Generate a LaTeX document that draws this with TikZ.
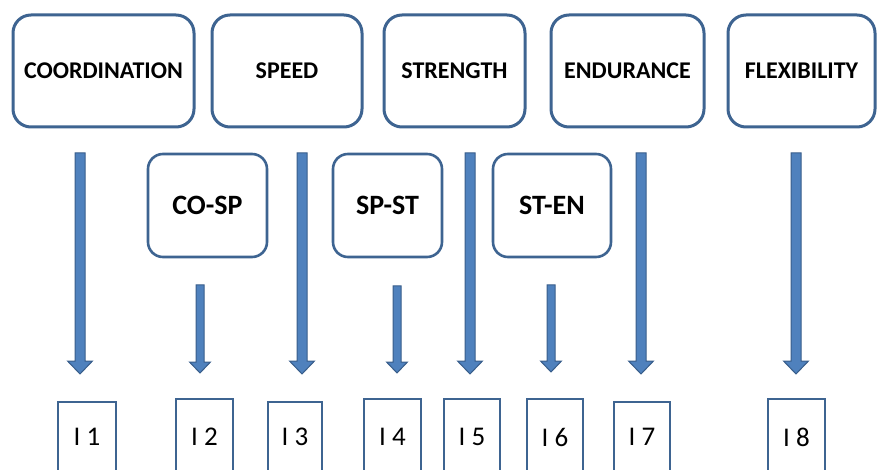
\documentclass[tikz,border=0pt]{standalone}
\usepackage{fontspec}
\setmainfont{Carlito}
\usetikzlibrary{calc}

\definecolor{boxline}{RGB}{62,100,145}
\definecolor{arrowfill}{RGB}{79,129,189}
\definecolor{arrowline}{RGB}{56,93,138}

\tikzset{
  quality/.style={draw=boxline, line width=3pt, rounded corners=18pt, fill=white,
    inner sep=0pt, minimum height=112pt, font=\fontsize{24}{28}\selectfont\bfseries},
  pairbox/.style={draw=boxline, line width=2.6pt, rounded corners=15pt, fill=white,
    inner sep=0pt, minimum height=103pt, minimum width=#1,
    font=\fontsize{28}{32}\selectfont\bfseries},
  itembox/.style={draw=boxline, line width=2pt, fill=white, inner sep=0pt,
    minimum height=76pt, minimum width=#1, font=\fontsize{27}{30}\selectfont},
  lowitem/.style={itembox=#1, minimum height=70pt},
  blockarrow/.style={fill=arrowfill, draw=arrowline, line width=1pt, line join=miter}
}

% block arrow between two named coordinates:
% #1 start, #2 tip, #3 shaft half width, #4 head half width, #5 head length
\newcommand\blockarrow[5]{%
  \path[blockarrow]
    ($(#1)+(-#3,0)$) -- ($(#2)+(-#3,-#5)$) -- ($(#2)+(-#4,-#5)$) -- (#2)
    -- ($(#2)+(#4,-#5)$) -- ($(#2)+(#3,-#5)$) -- ($(#1)+(#3,0)$) -- cycle;}

\begin{document}
\begin{tikzpicture}[x=1pt, y=-1pt]
  \useasboundingbox (0,0) rectangle (878,470);
  \clip (0,0) rectangle (878,470);

  % basic motor qualities
  \node[quality, minimum width=181pt] (coord) at (103.5,71) {COORDINATION};
  \node[quality, minimum width=150pt] (speed) at (287,71) {SPEED};
  \node[quality, minimum width=141pt] (strength) at (454.5,71) {STRENGTH};
  \node[quality, minimum width=153pt] (endurance) at (627.5,71) {ENDURANCE};
  \node[quality, minimum width=147pt] (flex) at (801.5,71) {FLEXIBILITY};

  % combined qualities
  \node[pairbox=119pt] (cosp) at (207.5,205.5) {CO-SP};
  \node[pairbox=109pt] (spst) at (387.5,205.5) {SP-ST};
  \node[pairbox=118pt] (sten) at (552,205.5) {ST-EN};

  % items (boxes run past the lower edge)
  \node[lowitem=58pt] (i1) at (87,437) {I 1};
  \node[itembox=57pt] (i2) at (204.5,437) {I 2};
  \node[lowitem=54pt] (i3) at (295,437) {I 3};
  \node[itembox=57pt] (i4) at (392.5,437) {I 4};
  \node[itembox=56pt] (i5) at (472,437) {I 5};
  \node[itembox=56pt] (i6) at (555,437) {I 6};
  \node[lowitem=56pt] (i7) at (642,437) {I 7};
  \node[itembox=57pt] (i8) at (796.5,437) {I 8};

  % arrow ends
  \coordinate (a1s) at (80,153);  \coordinate (a1e) at (80,374);
  \coordinate (a2s) at (200,285); \coordinate (a2e) at (200,373);
  \coordinate (a3s) at (302,153); \coordinate (a3e) at (302,374);
  \coordinate (a4s) at (397,286); \coordinate (a4e) at (397,373);
  \coordinate (a5s) at (470,153); \coordinate (a5e) at (470,374);
  \coordinate (a6s) at (551,285); \coordinate (a6e) at (551,372);
  \coordinate (a7s) at (641,153); \coordinate (a7e) at (641,374);
  \coordinate (a8s) at (796,153); \coordinate (a8e) at (796,374);

  \blockarrow{a1s}{a1e}{5}{12.5}{13}
  \blockarrow{a2s}{a2e}{4}{10.5}{11}
  \blockarrow{a3s}{a3e}{5}{12.5}{13}
  \blockarrow{a4s}{a4e}{4}{10.5}{11}
  \blockarrow{a5s}{a5e}{5}{12.5}{13}
  \blockarrow{a6s}{a6e}{4}{10.5}{11}
  \blockarrow{a7s}{a7e}{5}{12.5}{13}
  \blockarrow{a8s}{a8e}{5}{12.5}{13}
\end{tikzpicture}
\end{document}
